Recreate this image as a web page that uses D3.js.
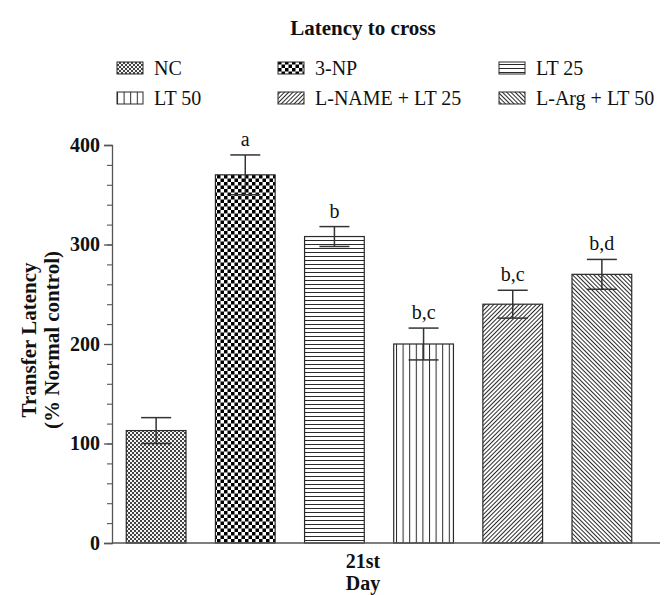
<!DOCTYPE html>
<html>
<head>
<script src="https://d3js.org/d3.v7.min.js"></script>
<style>
  body, html { margin: 0; background: #fff; }
  svg text { font-family: 'Liberation Serif', 'Times New Roman', serif; fill: #111; }
  .bold { font-weight: bold; }
</style>
</head>
<body>
<div id="chart"></div>
<script>
// data
var groups = ["NC", "3-NP", "LT 25", "LT 50", "L-NAME + LT 25", "L-Arg + LT 50"];
var means = [113, 370, 308, 200, 240, 270];
var errors = [13, 20, 10, 16, 14, 15];
var letters = ["", "a", "b", "b,c", "b,c", "b,d"];
var patternIds = ["pNC", "pNP", "pLT25", "pLT50", "pLNAME", "pLARG"];
var majorTicks = [0, 100, 200, 300, 400];
var minorTicks = d3.range(0, 401, 20);

var W = 672, H = 595;
var svg = d3.select("#chart").append("svg").attr("width", W).attr("height", H);
var defs = svg.append("defs");
var ink = "#2a2a2a";

// fill patterns
var p = defs.append("pattern").attr("id", "pNC").attr("patternUnits", "userSpaceOnUse")
  .attr("width", 4).attr("height", 4);
p.append("rect").attr("width", 4).attr("height", 4).attr("fill", "#f4f4f4");
p.append("rect").attr("width", 2).attr("height", 2).attr("fill", "#444");
p.append("rect").attr("x", 2).attr("y", 2).attr("width", 2).attr("height", 2).attr("fill", "#444");

p = defs.append("pattern").attr("id", "pNP").attr("patternUnits", "userSpaceOnUse")
  .attr("width", 7).attr("height", 7);
p.append("rect").attr("width", 7).attr("height", 7).attr("fill", "#fff");
p.append("rect").attr("width", 3.5).attr("height", 3.5).attr("fill", "#000");
p.append("rect").attr("x", 3.5).attr("y", 3.5).attr("width", 3.5).attr("height", 3.5).attr("fill", "#000");

p = defs.append("pattern").attr("id", "pLT25").attr("patternUnits", "userSpaceOnUse")
  .attr("width", 4).attr("height", 4);
p.append("rect").attr("width", 4).attr("height", 4).attr("fill", "#fff");
p.append("line").attr("x1", 0).attr("x2", 4).attr("y1", 0.5).attr("y2", 0.5)
  .attr("stroke", ink).attr("stroke-width", 1);

p = defs.append("pattern").attr("id", "pLT50").attr("patternUnits", "userSpaceOnUse")
  .attr("width", 6.6).attr("height", 6.6);
p.append("rect").attr("width", 6.6).attr("height", 6.6).attr("fill", "#fff");
p.append("line").attr("y1", 0).attr("y2", 6.6).attr("x1", 0.5).attr("x2", 0.5)
  .attr("stroke", ink).attr("stroke-width", 1);

[["pLNAME", 45], ["pLARG", -45]].forEach(function(d) {
  var q = defs.append("pattern").attr("id", d[0]).attr("patternUnits", "userSpaceOnUse")
    .attr("width", 3).attr("height", 3).attr("patternTransform", "rotate(" + d[1] + ")");
  q.append("rect").attr("width", 3).attr("height", 3).attr("fill", "#fff");
  q.append("line").attr("y1", 0).attr("y2", 3).attr("x1", 0.5).attr("x2", 0.5)
    .attr("stroke", ink).attr("stroke-width", 1);
});

// scales
var y = d3.scaleLinear().domain([0, 400]).range([543, 145]);
var x = d3.scaleBand().domain(groups).range([112, 646]).paddingInner(0.33).paddingOuter(0.16);

// title
svg.append("text").attr("class", "bold").attr("x", 363).attr("y", 35)
  .attr("text-anchor", "middle").style("font-size", "21px").text("Latency to cross");

// legend
var legX = [117, 278, 499];
var legY = [68, 98];
var leg = svg.append("g").selectAll("g").data(groups).enter().append("g")
  .attr("transform", function(d, i) { return "translate(" + legX[i % 3] + "," + legY[Math.floor(i / 3)] + ")"; });
leg.append("rect").attr("x", 0).attr("y", -6).attr("width", 26).attr("height", 12)
  .attr("fill", function(d, i) { return "url(#" + patternIds[i] + ")"; })
  .attr("stroke", ink).attr("stroke-width", 1);
leg.append("text").attr("x", 37).attr("y", 7).style("font-size", "20px").text(function(d) { return d; });

// bars
svg.append("g").selectAll("rect").data(groups).enter().append("rect")
  .attr("x", function(d) { return x(d); })
  .attr("width", x.bandwidth())
  .attr("y", function(d, i) { return y(means[i]); })
  .attr("height", function(d, i) { return y(0) - y(means[i]); })
  .attr("fill", function(d, i) { return "url(#" + patternIds[i] + ")"; })
  .attr("stroke", ink).attr("stroke-width", 1.2);

// error bars
var eb = svg.append("g").attr("stroke", "#333").attr("stroke-width", 1.5)
  .selectAll("g").data(groups).enter().append("g");
var cx = function(d) { return x(d) + x.bandwidth() / 2; };
eb.append("line").attr("x1", cx).attr("x2", cx)
  .attr("y1", function(d, i) { return y(means[i] - errors[i]); })
  .attr("y2", function(d, i) { return y(means[i] + errors[i]); });
eb.append("line").attr("x1", function(d) { return cx(d) - 15; }).attr("x2", function(d) { return cx(d) + 15; })
  .attr("y1", function(d, i) { return y(means[i] + errors[i]); })
  .attr("y2", function(d, i) { return y(means[i] + errors[i]); });
eb.append("line").attr("x1", function(d) { return cx(d) - 15; }).attr("x2", function(d) { return cx(d) + 15; })
  .attr("y1", function(d, i) { return y(means[i] - errors[i]); })
  .attr("y2", function(d, i) { return y(means[i] - errors[i]); });

// significance letters
svg.append("g").selectAll("text").data(groups).enter().append("text")
  .attr("x", cx).attr("y", function(d, i) { return y(means[i] + errors[i]) - 9; })
  .attr("text-anchor", "middle").style("font-size", "20px")
  .text(function(d, i) { return letters[i]; });

// y axis
var yAxis = svg.append("g").attr("transform", "translate(112,0)")
  .call(d3.axisLeft(y).tickValues(majorTicks).tickSize(8).tickPadding(4));
yAxis.selectAll("text").attr("class", "bold").style("font-size", "20px")
  .style("font-family", "'Liberation Serif', serif");
yAxis.selectAll("line, path").attr("stroke", "#555").attr("stroke-width", 1.3);
var yMinor = svg.append("g").attr("transform", "translate(112,0)")
  .call(d3.axisLeft(y).tickValues(minorTicks).tickSize(5).tickFormat(""));
yMinor.select(".domain").remove();
yMinor.selectAll("line").attr("stroke", "#555").attr("stroke-width", 1.1);

// x axis line
svg.append("line").attr("x1", 112).attr("x2", 660).attr("y1", y(0)).attr("y2", y(0))
  .attr("stroke", "#555").attr("stroke-width", 1.5);

svg.append("text").attr("class", "bold").attr("x", 363).attr("y", 568)
  .attr("text-anchor", "middle").style("font-size", "20px").text("21st");
svg.append("text").attr("class", "bold").attr("x", 363).attr("y", 590)
  .attr("text-anchor", "middle").style("font-size", "20px").text("Day");

// y axis title
var yt = svg.append("text").attr("class", "bold").attr("text-anchor", "middle")
  .attr("transform", "translate(36,340) rotate(-90)").style("font-size", "21px");
yt.append("tspan").attr("x", 0).attr("dy", 0).text("Transfer Latency");
yt.append("tspan").attr("x", 0).attr("dy", 23).text("(% Normal control)");
</script>
</body>
</html>
